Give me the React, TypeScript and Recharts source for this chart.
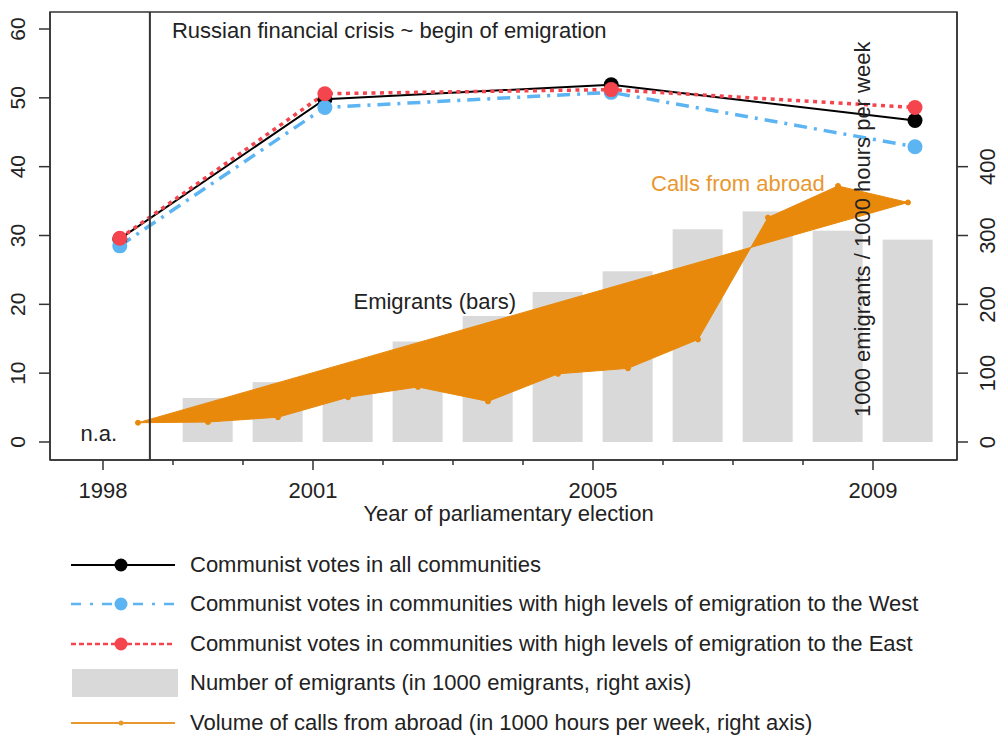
import React from "react";
import {
  Area,
  Bar,
  ComposedChart,
  Label,
  Legend,
  Line,
  ReferenceArea,
  ReferenceDot,
  ReferenceLine,
  XAxis,
  YAxis,
} from "recharts";

// parliamentary elections (fractional year of the vote)
const electionDates = [1998.24, 2001.17, 2005.26, 2009.6];
const votesAll = [29.5, 49.8, 51.9, 46.7];
const votesWest = [28.5, 48.6, 50.8, 42.9];
const votesEast = [29.6, 50.6, 51.2, 48.6];

// yearly series, plotted mid-year
const flowYears = [1998.5, 1999.5, 2000.5, 2001.5, 2002.5, 2003.5, 2004.5, 2005.5, 2006.5, 2007.5, 2008.5, 2009.5];
const emigrants = [null, 64, 87, 100, 146, 183, 218, 248, 309, 335, 307, 294];
const calls = [28, 29, 36, 65, 80, 59, 99, 107, 149, 326, 372, 348];

const xDomain = [1997.243, 2010.2];
const xTicks = [1998, 1999, 2000, 2001, 2002, 2003, 2004, 2005, 2006, 2007, 2008, 2009];
const xLabelled = [1998, 2001, 2005, 2009];
const leftDomain = [-2.615, 62.47];
const leftTicks = [0, 10, 20, 30, 40, 50, 60];
const rightDomain = [-26.15, 624.7];
const rightTicks = [0, 100, 200, 300, 400];
const crisisYear = 1998.67;

const BLACK = "#000000";
const BLUE = "#5cb4f2";
const RED = "#f4454f";
const ORANGE = "#e8890c";
const ORANGE_TEXT = "#e8982f";
const GREY = "#d9d9d9";
const AXIS = "#333333";
const FONT = '"Liberation Sans", Arial, sans-serif';

const rows = [
  ...electionDates.map((x, i) => ({
    x,
    all: votesAll[i],
    west: votesWest[i],
    east: votesEast[i],
    emigrants: null as number | null,
    calls: null as number | null,
  })),
  ...flowYears.map((x, i) => ({
    x,
    all: null as number | null,
    west: null as number | null,
    east: null as number | null,
    emigrants: emigrants[i],
    calls: calls[i],
  })),
].sort((a, b) => a.x - b.x);

// the calls series is drawn as a closed polygon (last point joined back to the first)
const cx0 = flowYears[0];
const cx1 = flowYears[flowYears.length - 1];
const cy0 = calls[0];
const cy1 = calls[calls.length - 1];
const callsPolygon = (r: any) =>
  r.calls == null ? [null, null] : [cy0 + ((r.x - cx0) * (cy1 - cy0)) / (cx1 - cx0), r.calls];

const legendItems = [
  { label: "Communist votes in all communities", kind: "line", color: BLACK, width: 2, dash: undefined, r: 6.5 },
  { label: "Communist votes in communities with high levels of emigration to the West", kind: "line", color: BLUE, width: 2.5, dash: "10 9 3 9", r: 6.5 },
  { label: "Communist votes in communities with high levels of emigration to the East", kind: "line", color: RED, width: 2.5, dash: "5 3", r: 6.5 },
  { label: "Number of emigrants (in 1000 emigrants, right axis)", kind: "rect", color: GREY, width: 0, dash: undefined, r: 0 },
  { label: "Volume of calls from abroad (in 1000 hours per week, right axis)", kind: "line", color: ORANGE_TEXT, width: 2, dash: undefined, r: 2.5 },
];

const LegendBox = () => (
  <div style={{ width: 1001, fontFamily: FONT }}>
    {legendItems.map((item) => (
      <div key={item.label} style={{ display: "flex", alignItems: "center", height: 39.5 }}>
        <svg width={107} height={30} style={{ marginLeft: 71, marginRight: 12, flex: "none" }}>
          {item.kind === "rect" ? (
            <rect x={1} y={1} width={106} height={28} fill={item.color} />
          ) : (
            <>
              <line x1={0} x2={104} y1={15} y2={15} stroke={item.color} strokeWidth={item.width} strokeDasharray={item.dash} />
              <circle cx={50} cy={15} r={item.r} fill={item.color} />
            </>
          )}
        </svg>
        <span style={{ fontSize: 22, color: "#222", whiteSpace: "nowrap", lineHeight: 1 }}>{item.label}</span>
      </div>
    ))}
  </div>
);

const XTick = ({ x, y, payload }: any) => {
  const major = xLabelled.includes(payload.value);
  return (
    <g>
      <line x1={x} x2={x} y1={y} y2={y + (major ? 10 : 5)} stroke={AXIS} strokeWidth={1.5} />
      {major && (
        <text x={x} y={y + 38} textAnchor="middle" fontSize={22} fill="#222">
          {payload.value}
        </text>
      )}
    </g>
  );
};

const LeftTick = ({ x, y, payload }: any) => (
  <text x={x - 21} y={y} transform={`rotate(-90 ${x - 21} ${y})`} textAnchor="middle" dominantBaseline="central" fontSize={21} fill="#222">
    {payload.value}
  </text>
);

const RightTick = ({ x, y, payload }: any) => (
  <text x={x + 20} y={y} transform={`rotate(-90 ${x + 20} ${y})`} textAnchor="middle" dominantBaseline="central" fontSize={22} fill="#222">
    {payload.value}
  </text>
);

const XTitle = ({ viewBox }: any) => (
  <text x={viewBox.x + viewBox.width / 2 + 5} y={viewBox.y + 61} textAnchor="middle" fontSize={22} fill="#222">
    Year of parliamentary election
  </text>
);

const CrisisLabel = ({ viewBox }: any) => (
  <text x={viewBox.x + 22} y={viewBox.y + 26} fontSize={22} fill="#222">
    Russian financial crisis ~ begin of emigration
  </text>
);

export default function App() {
  return (
    <div style={{ position: "absolute", left: 0, top: 0, width: 1001, height: 736, background: "#fff", fontFamily: FONT }}>
      <ComposedChart width={1001} height={736} data={rows} margin={{ top: 12, right: 0, bottom: 200, left: 0 }}>
        <XAxis
          dataKey="x"
          type="number"
          domain={xDomain}
          allowDataOverflow
          ticks={xTicks}
          interval={0}
          tickLine={false}
          tickSize={0}
          tickMargin={0}
          height={76}
          axisLine={{ stroke: AXIS, strokeWidth: 1.5 }}
          tick={(p: any) => <XTick {...p} />}
        >
          <Label content={(p: any) => <XTitle {...p} />} />
        </XAxis>
        <YAxis
          yAxisId="left"
          type="number"
          domain={leftDomain}
          allowDataOverflow
          ticks={leftTicks}
          interval={0}
          width={50}
          tickSize={11}
          tickMargin={0}
          axisLine={{ stroke: AXIS, strokeWidth: 1.5 }}
          tickLine={{ stroke: AXIS, strokeWidth: 1.5 }}
          tick={(p: any) => <LeftTick {...p} />}
        />
        <YAxis
          yAxisId="right"
          orientation="right"
          type="number"
          domain={rightDomain}
          allowDataOverflow
          ticks={rightTicks}
          interval={0}
          width={44}
          tickSize={11}
          tickMargin={0}
          axisLine={{ stroke: AXIS, strokeWidth: 1.5 }}
          tickLine={{ stroke: AXIS, strokeWidth: 1.5 }}
          tick={(p: any) => <RightTick {...p} />}
        />
        <Bar
          yAxisId="right"
          dataKey="emigrants"
          barSize={50}
          isAnimationActive={false}
          shape={(p: any) =>
            p.height > 0 ? <rect x={p.x + p.width / 2 - 25} y={p.y} width={50} height={p.height} fill={GREY} /> : <g />
          }
        />
        <Area
          yAxisId="right"
          type="linear"
          dataKey={callsPolygon}
          connectNulls
          stroke={ORANGE}
          strokeWidth={1}
          fill={ORANGE}
          fillOpacity={1}
          dot={{ r: 2.5, fill: ORANGE, stroke: ORANGE }}
          activeDot={false}
          isAnimationActive={false}
          zIndex={350}
        />
        <Line
          yAxisId="left"
          type="linear"
          dataKey="all"
          connectNulls
          stroke={BLACK}
          strokeWidth={2}
          dot={{ r: 7.5, fill: BLACK, stroke: "none" }}
          activeDot={false}
          isAnimationActive={false}
        />
        <Line
          yAxisId="left"
          type="linear"
          dataKey="west"
          connectNulls
          stroke={BLUE}
          strokeWidth={3.5}
          strokeDasharray="13 7 3 7"
          dot={{ r: 7.5, fill: BLUE, stroke: "none", strokeDasharray: "0" }}
          activeDot={false}
          isAnimationActive={false}
        />
        <Line
          yAxisId="left"
          type="linear"
          dataKey="east"
          connectNulls
          stroke={RED}
          strokeWidth={3.5}
          strokeDasharray="4 4.5"
          dot={{ r: 7.5, fill: RED, stroke: "none", strokeDasharray: "0" }}
          activeDot={false}
          isAnimationActive={false}
        />
        <ReferenceLine
          yAxisId="left"
          x={crisisYear}
          stroke={AXIS}
          strokeWidth={2}
          label={(p: any) => <CrisisLabel {...p} />}
        />
        <ReferenceArea
          yAxisId="left"
          x1={xDomain[0]}
          x2={xDomain[1]}
          y1={leftDomain[0]}
          y2={leftDomain[1]}
          fill="none"
          stroke={AXIS}
          strokeWidth={1.5}
          ifOverflow="visible"
        />
        <ReferenceDot
          yAxisId="left"
          x={2002.74}
          y={20.5}
          r={0}
          stroke="none"
          label={{ value: "Emigrants (bars)", position: "center", fontSize: 22, fill: "#222" }}
        />
        <ReferenceDot
          yAxisId="left"
          x={2007.07}
          y={37.6}
          r={0}
          stroke="none"
          label={{ value: "Calls from abroad", position: "center", fontSize: 22, fill: ORANGE_TEXT }}
        />
        <ReferenceDot
          yAxisId="left"
          x={1997.94}
          y={1.3}
          r={0}
          stroke="none"
          label={{ value: "n.a.", position: "center", fontSize: 22, fill: "#222" }}
        />
        <ReferenceDot
          yAxisId="left"
          x={2008.84}
          y={30.9}
          r={0}
          stroke="none"
          label={{ value: "1000 emigrants / 1000 hours per week", position: "center", angle: -90, fontSize: 22, fill: "#222" }}
        />
        <Legend
          layout="vertical"
          align="center"
          verticalAlign="middle"
          content={() => <LegendBox />}
          wrapperStyle={{ left: 0, top: 545, width: 1001 }}
        />
      </ComposedChart>
    </div>
  );
}
